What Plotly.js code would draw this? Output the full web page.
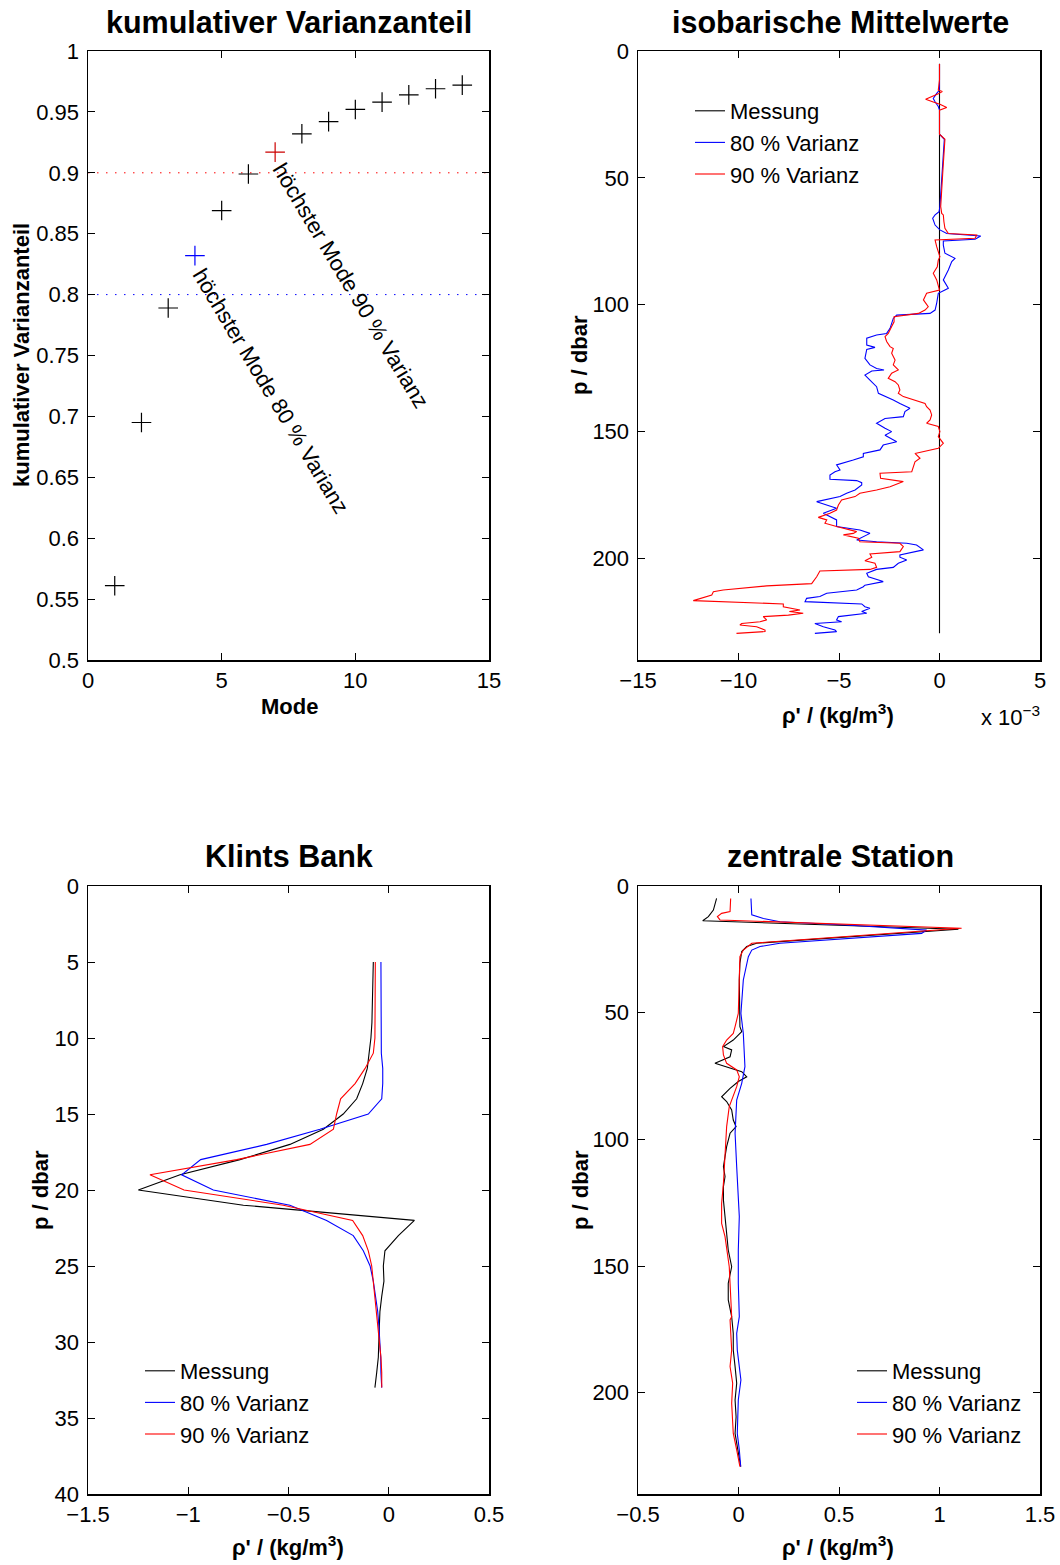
<!DOCTYPE html>
<html><head><meta charset="utf-8">
<script src="https://cdn.plot.ly/plotly-3.0.1.min.js"></script>
<style>html,body{margin:0;padding:0;background:#fff}</style>
</head><body>
<div id="chart" style="width:1060px;height:1565px"></div>
<script>
// ---------- data: cumulative variance ----------
const modes = [1,2,3,4,5,6,7,8,9,10,11,12,13,14];
const cumVar = [0.561,0.695,0.789,0.832,0.869,0.899,0.917,0.932,0.942,0.952,0.958,0.964,0.969,0.972];
const mode80 = 4;
const mode90 = 7;
const level80 = 0.8;
const level90 = 0.9;
const modeRange = [0, 15];

// ---------- data: isobaric means (units of 1e-3 kg/m^3) ----------
const meanP0 = [5, 229.5];
const meanV0 = [0, 0];
const meanP80 = [5.1,15.4,16.7,18.7,20.0,21.9,23.3,32.8,34.8,48.2,61.3,63.3,64.6,65.9,68.6,70.5,71.9,72.9,74.2,74.9,76.5,79.7,81.7,83.0,86.3,90.2,93.5,94.2,95.5,99.4,102.1,103.4,104.1,105.4,107.3,109.3,111.3,111.9,113.2,115.9,116.8,117.6,121.1,123.7,125.1,125.7,126.1,127.7,129.7,132.3,134.9,136.2,137.5,138.9,140.2,140.8,142.1,144.1,144.8,146.7,148.7,150.0,151.4,154.0,155.3,157.2,158.6,159.9,161.2,162.5,163.1,165.1,165.8,167.1,168.8,169.3,170.1,171.0,173.0,174.3,175.6,177.6,178.9,180.2,182.2,183.5,184.8,187.4,188.8,190.1,192.7,193.4,194.0,194.7,196.6,198.6,199.5,200.6,201.9,203.5,204.3,205.8,207.2,209.1,210.5,211.1,212.4,213.7,215.0,215.7,217.0,217.9,219.0,219.6,220.9,221.6,222.9,224.2,224.9,225.6,226.9,228.2,228.8,229.5];
const meanV80 = [0,0,-0.14,-0.31,-0.22,-0.06,0,0,0.24,0.14,0.02,-0.02,-0.22,-0.34,-0.22,0.02,0.36,2.05,1.77,0.19,0.19,0.27,0.77,0.61,0.44,0.19,0.44,0.27,-0.06,-0.14,-0.22,-0.47,-2.13,-2.30,-2.38,-2.46,-2.63,-3.13,-3.62,-3.62,-3.21,-3.62,-3.71,-3.46,-3.13,-2.76,-3.37,-3.71,-3.46,-3.13,-3.04,-2.63,-2.30,-1.97,-1.63,-1.47,-1.72,-1.80,-2.71,-3.13,-2.71,-2.38,-2.71,-2.13,-2.80,-2.96,-3.79,-3.79,-4.29,-4.78,-5.12,-4.95,-5.20,-5.45,-5.45,-4.12,-3.87,-3.87,-4.20,-4.62,-4.95,-6.11,-5.61,-5.12,-5.78,-5.45,-5.12,-5.12,-3.96,-3.46,-4.12,-3.13,-1.63,-1.14,-0.80,-1.97,-1.97,-1.63,-2.05,-2.30,-3.13,-3.62,-3.54,-2.80,-3.71,-3.79,-4.12,-5.61,-5.95,-6.61,-6.69,-3.87,-3.71,-3.46,-3.87,-3.62,-5.03,-5.12,-4.87,-6.20,-5.78,-5.20,-5.12,-6.20];
const meanP90 = [5.1,11.4,15.4,16.0,16.9,19.0,20.1,21.0,22.3,23.3,32.8,34.8,48.2,61.3,64.0,64.6,67.3,69.9,71.9,72.5,73.8,74.5,77.1,81.1,82.4,85.0,87.6,90.2,94.2,95.5,98.1,100.8,102.1,103.4,104.7,106.7,108.6,111.3,112.6,114.5,116.5,117.2,119.1,121.8,123.7,125.7,127.0,129.0,130.3,131.6,133.6,134.9,136.2,137.5,138.9,140.2,141.5,143.4,145.4,146.7,148.0,150.0,152.0,154.6,156.6,158.6,160.5,161.9,165.8,166.4,168.4,169.7,171.7,173.0,174.3,175.6,176.9,178.9,180.9,182.2,183.8,184.8,186.1,187.4,189.4,190.1,190.7,192.0,193.4,194.0,195.3,197.3,198.2,199.5,200.9,201.9,203.5,204.3,204.9,207.2,209.9,210.8,212.4,213.1,214.4,216.6,217.9,219.0,220.3,220.9,221.6,222.3,222.9,224.2,224.9,225.6,226.2,226.9,228.2,228.8,229.5];
const meanV90 = [0,0,-0.06,0.14,-0.06,-0.69,-0.31,0.02,0.36,0,0,0.27,0.16,0.06,0.11,0.19,0.22,0.27,0.44,1.85,1.77,-0.22,-0.14,0.02,-0.06,-0.11,-0.31,-0.14,0,-0.64,-0.80,-0.56,-0.72,-1.05,-2.26,-2.26,-2.38,-2.55,-2.71,-2.63,-2.46,-2.30,-2.38,-2.21,-2.30,-2.05,-2.38,-2.55,-2.21,-2.05,-1.97,-2.05,-1.80,-1.30,-0.72,-0.64,-0.47,-0.39,-0.47,-0.64,-0.06,0.02,-0.06,0.19,-0.06,-1.22,-0.97,-1.22,-1.38,-2.96,-2.93,-1.80,-2.46,-3.13,-3.96,-4.20,-4.87,-5.03,-5.12,-5.45,-6.03,-5.61,-5.70,-5.12,-4.12,-4.29,-4.78,-4.04,-3.96,-1.97,-1.80,-1.97,-3.46,-3.37,-3.71,-3.21,-3.13,-3.46,-5.95,-6.11,-6.36,-8.60,-10.76,-11.25,-11.33,-12.25,-7.77,-7.77,-6.94,-7.47,-6.78,-7.52,-8.77,-8.60,-8.93,-9.84,-9.93,-9.10,-8.68,-8.68,-10.10];

// ---------- data: Klints Bank ----------
const kbP = [5,6,7,8,9,10,11,12,13,14,15,16,17,18,19,20,21,22,23,24,25,26,27,28,29,30,31,32,33];
const kbMess = [-0.077,-0.078,-0.079,-0.081,-0.084,-0.089,-0.097,-0.107,-0.130,-0.160,-0.227,-0.326,-0.493,-0.742,-1.041,-1.249,-0.725,0.128,0.048,-0.019,-0.027,-0.024,-0.035,-0.044,-0.047,-0.049,-0.052,-0.060,-0.069];
const kb80 = [-0.039,-0.039,-0.039,-0.039,-0.039,-0.039,-0.037,-0.030,-0.030,-0.035,-0.102,-0.343,-0.609,-0.938,-1.033,-0.875,-0.493,-0.310,-0.177,-0.127,-0.093,-0.077,-0.065,-0.055,-0.049,-0.044,-0.040,-0.039,-0.035];
const kb90 = [-0.067,-0.067,-0.067,-0.068,-0.068,-0.069,-0.077,-0.118,-0.168,-0.240,-0.260,-0.276,-0.393,-0.758,-1.191,-1.021,-0.526,-0.180,-0.130,-0.102,-0.085,-0.077,-0.069,-0.060,-0.052,-0.044,-0.039,-0.035,-0.035];

// ---------- data: zentrale Station ----------
const zsP0 = [4.9,9.5,12.1,13.7,17.1,22.6,23.9,25.9,30.5,37.1,55.5,57.5,60.8,63.4,64.7,67.4,70.0,71.3,73.3,75.3,77.2,79.9,83.2,85.1,88.4,92.4,95.0,97.6,102.9,106.8,110.8,114.7,118.7,124.0,130.5,138.4,143.7,150.3,156.8,163.4,170.0,176.6,183.2,189.7,196.3,202.9,209.5,216.1,220.0,225.3,229.2];
const zsV0 = [-0.109,-0.125,-0.150,-0.178,1.094,0.090,0.041,0.016,0.007,0.004,0.007,0.016,-0.026,-0.075,-0.034,-0.042,-0.117,-0.067,0.016,0.041,-0.001,-0.042,-0.084,-0.059,-0.034,-0.026,-0.012,-0.042,-0.059,-0.067,-0.075,-0.067,-0.075,-0.075,-0.067,-0.059,-0.051,-0.034,-0.051,-0.051,-0.034,-0.026,-0.026,-0.017,-0.009,-0.017,-0.012,-0.017,-0.009,0.004,0.011];
const zsP80 = [4.9,11.4,12.8,14.1,15.4,17.4,18.7,22.6,23.9,25.3,27.9,37.1,50.3,58.2,71.3,77.9,84.5,97.6,110.8,124.0,130.5,143.7,156.8,170.0,176.6,183.2,195.0,202.9,216.1,222.6,229.2];
const zsV80 = [0.062,0.066,0.124,0.206,0.538,0.936,0.911,0.206,0.107,0.066,0.049,0.024,0.012,0.024,0.032,0.016,-0.009,-0.017,-0.009,-0.001,0.004,-0.001,-0.001,0.004,-0.009,-0.006,0.012,-0.001,-0.006,0.004,0.011];
const zsP90 = [4.9,10.1,10.8,12.1,13.4,16.7,22.6,25.3,27.9,37.1,50.3,55.5,58.2,60.8,63.4,66.7,70.0,72.6,75.3,79.2,84.5,87.1,95.0,100.3,108.2,117.4,125.3,133.2,138.4,143.7,150.3,156.8,170.0,171.3,177.9,183.2,189.7,196.3,204.2,216.1,222.6,229.2];
const zsV90 = [-0.039,-0.042,-0.084,-0.105,-0.092,1.110,0.066,0.024,0.007,0.004,-0.001,-0.017,-0.026,-0.059,-0.079,-0.075,-0.059,-0.009,0.004,-0.009,-0.034,-0.046,-0.059,-0.062,-0.070,-0.075,-0.084,-0.084,-0.067,-0.059,-0.046,-0.042,-0.034,-0.042,-0.039,-0.034,-0.042,-0.029,-0.034,-0.026,-0.009,0.007];

// ---------- labels ----------
const seriesNames = ['Messung', '80 % Varianz', '90 % Varianz'];
const seriesColors = ['#000000', '#0000ff', '#ff0000'];
const titles = ['kumulativer Varianzanteil', 'isobarische Mittelwerte', 'Klints Bank', 'zentrale Station'];
const yTickVals1 = [0.5,0.55,0.6,0.65,0.7,0.75,0.8,0.85,0.9,0.95,1];
const yTickText1 = ['0.5','0.55','0.6','0.65','0.7','0.75','0.8','0.85','0.9','0.95','1'];
const label80 = 'höchster Mode 80 % Varianz';
const label90 = 'höchster Mode 90 % Varianz';

// ---------- layout helpers ----------
const W = 1060, H = 1565;
const FONT = 'Liberation Sans, Arial, Helvetica, sans-serif';
const px = v => v / W;
const py = v => 1 - v / H;
const colL = [px(88), px(489)];
const colR = [px(638), px(1040)];
const rowT = [py(660), py(51)];
const rowB = [py(1494), py(886)];

function axis(extra) {
  return Object.assign({
    showline: true, linecolor: 'black', linewidth: 1.5, mirror: 'ticks',
    ticks: 'inside', ticklen: 7, tickwidth: 1, tickcolor: 'black',
    showgrid: false, zeroline: false, ticklabelstandoff: 3,
    tickfont: {family: FONT, size: 22, color: 'black'}
  }, extra);
}
function xaxis(extra) { return axis(Object.assign({ticklabelstandoff: 0}, extra)); }

const markerColors = modes.map(m => m === mode80 ? '#0000ff' : (m === mode90 ? '#cc0000' : '#000000'));

const traces = [
  {x: modeRange, y: [level90, level90], xaxis: 'x', yaxis: 'y', mode: 'lines', showlegend: false,
   line: {color: '#ff0000', width: 1, dash: '1.5px,7.5px'}},
  {x: modeRange, y: [level80, level80], xaxis: 'x', yaxis: 'y', mode: 'lines', showlegend: false,
   line: {color: '#0000ff', width: 1, dash: '1.5px,7.5px'}},
  {x: modes, y: cumVar, xaxis: 'x', yaxis: 'y', mode: 'markers', showlegend: false,
   marker: {symbol: 'cross-thin-open', size: 14, color: markerColors, line: {width: 1.2, color: markerColors}}},
];

function profileSet(xs, ys, xa, ya, legendName) {
  for (let i = 0; i < 3; i++) {
    traces.push({x: xs[i], y: ys[i], xaxis: xa, yaxis: ya, mode: 'lines', name: seriesNames[i],
      legend: legendName, showlegend: !!legendName,
      line: {color: seriesColors[i], width: 1.1}});
  }
}
profileSet([meanV0, meanV80, meanV90], [meanP0, meanP80, meanP90], 'x2', 'y2', 'legend');
profileSet([kbMess, kb80, kb90], [kbP, kbP, kbP], 'x3', 'y3', 'legend2');
profileSet([zsV0, zsV80, zsV90], [zsP0, zsP80, zsP90], 'x4', 'y4', 'legend3');

const legendBase = {bgcolor: 'rgba(0,0,0,0)', borderwidth: 0, xanchor: 'left', yanchor: 'top',
  font: {family: FONT, size: 22, color: 'black'}, tracegroupgap: 0};

const ann = [];
function txt(text, x, y, size, bold, angle) {
  ann.push({text: text, xref: 'paper', yref: 'paper', x: px(x), y: py(y), xanchor: 'center', yanchor: 'middle',
    showarrow: false, textangle: angle || 0,
    font: {family: FONT, size: size, color: 'black', weight: bold ? 'bold' : 'normal'}});
}
txt(titles[0], 289, 22, 30.5, true);
txt(titles[1], 840, 22, 30.5, true);
txt(titles[2], 289, 856, 30.5, true);
txt(titles[3], 840, 856, 30.5, true);
txt('Mode', 289, 706, 22, true);
txt('ρ\' / (kg/m<sup>3</sup>)', 838, 714, 22, true);
txt('ρ\' / (kg/m<sup>3</sup>)', 288, 1546, 22, true);
txt('ρ\' / (kg/m<sup>3</sup>)', 838, 1546, 22, true);
txt('x 10<sup>−3</sup>', 1010, 716, 22, false);
txt('kumulativer Varianzanteil', 22, 355, 22, true, -90);
txt('p / dbar', 580, 355, 22, true, -90);
txt('p / dbar', 40, 1190, 22, true, -90);
txt('p / dbar', 580, 1190, 22, true, -90);
txt(label80, 270, 391, 22, false, 59);
txt(label90, 351, 285, 22, false, 59);

const layout = {
  width: W, height: H, margin: {l: 0, r: 0, t: 0, b: 0},
  paper_bgcolor: 'white', plot_bgcolor: 'white',
  font: {family: FONT, size: 22, color: 'black'},
  xaxis: xaxis({domain: colL, anchor: 'y', range: modeRange, dtick: 5, tick0: 0}),
  yaxis: axis({domain: rowT, anchor: 'x', range: [0.5, 1], tickmode: 'array', tickvals: yTickVals1, ticktext: yTickText1}),
  xaxis2: xaxis({domain: colR, anchor: 'y2', range: [-15, 5], dtick: 5, tick0: 0}),
  yaxis2: axis({domain: rowT, anchor: 'x2', range: [240, 0], dtick: 50, tick0: 0}),
  xaxis3: xaxis({domain: colL, anchor: 'y3', range: [-1.5, 0.5], dtick: 0.5, tick0: 0}),
  yaxis3: axis({domain: rowB, anchor: 'x3', range: [40, 0], dtick: 5, tick0: 0}),
  xaxis4: xaxis({domain: colR, anchor: 'y4', range: [-0.5, 1.5], dtick: 0.5, tick0: 0}),
  yaxis4: axis({domain: rowB, anchor: 'x4', range: [240, 0], dtick: 50, tick0: 0}),
  legend: Object.assign({}, legendBase, {x: px(690), y: py(90)}),
  legend2: Object.assign({}, legendBase, {x: px(140), y: py(1350)}),
  legend3: Object.assign({}, legendBase, {x: px(852), y: py(1350)}),
  annotations: ann,
  showlegend: true
};

Plotly.newPlot('chart', traces, layout, {staticPlot: true, displayModeBar: false});
</script></body></html>
